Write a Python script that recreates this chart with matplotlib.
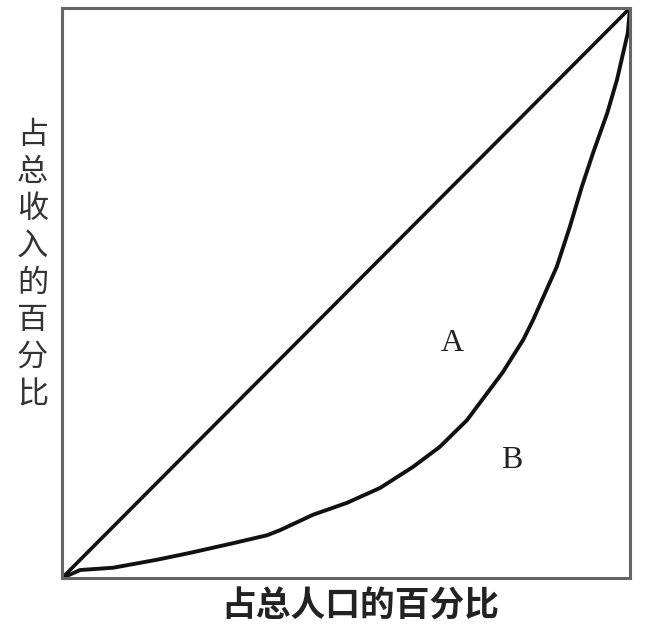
import matplotlib.pyplot as plt

plt.rcParams['font.family'] = ['Noto Sans CJK SC', 'DejaVu Sans']

# Lorenz curve (share of population, share of income)
pop = [0.0, 0.032, 0.090, 0.167, 0.225, 0.301, 0.361, 0.384, 0.442, 0.502,
       0.560, 0.618, 0.665, 0.713, 0.776, 0.812, 0.829, 0.871, 0.894, 0.915,
       0.935, 0.960, 0.977, 0.996, 1.0]
income = [0.0, 0.014, 0.018, 0.032, 0.044, 0.061, 0.075, 0.084, 0.111, 0.132,
          0.158, 0.195, 0.230, 0.277, 0.361, 0.418, 0.452, 0.546, 0.616, 0.686,
          0.746, 0.816, 0.874, 0.956, 1.0]
equal = [0.0, 1.0]

xlabel = '占总人口的百分比'
ylabel = '占总收入的百分比'

fig = plt.figure(figsize=(6.62, 6.36), dpi=100)
ax = fig.add_axes([0.0937, 0.0912, 0.858, 0.8962])

ax.plot(equal, equal, color='#111111', lw=2.6, solid_capstyle='round')
ax.plot(pop, income, color='#111111', lw=2.8, solid_capstyle='round',
        solid_joinstyle='round')

ax.text(0.688, 0.412, 'A', family=['Liberation Serif', 'DejaVu Serif'],
        fontsize=23, ha='center', va='center', color='#222222')
ax.text(0.792, 0.207, 'B', family=['Liberation Serif', 'DejaVu Serif'],
        fontsize=23, ha='center', va='center', color='#222222')

ax.set_xlim(0, 1)
ax.set_ylim(0, 1)
ax.set_xticks([])
ax.set_yticks([])
for s in ax.spines.values():
    s.set_color('#666666')
    s.set_linewidth(2.2)

fig.text(0.545, 0.047, xlabel, fontsize=25, fontweight='bold',
         ha='center', va='center', color='#222222')
fig.text(0.049, 0.584, '\n'.join(ylabel), fontsize=22.5, ha='center',
         va='center', linespacing=1.2, color='#333333')

fig.savefig('out.png', dpi=100, facecolor='white')
